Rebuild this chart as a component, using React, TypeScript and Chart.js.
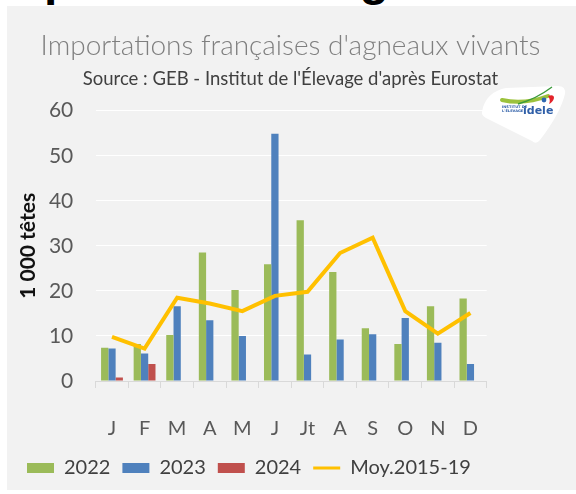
import React, { useEffect, useRef } from 'react';
import { Chart, registerables } from 'chart.js';

Chart.register(...registerables);

const months = ['J', 'F', 'M', 'A', 'M', 'J', 'Jt', 'A', 'S', 'O', 'N', 'D'];
const imports2022 = [7.4, 8.2, 10.2, 28.5, 20.2, 25.9, 35.7, 24.2, 11.7, 8.2, 16.6, 18.3];
const imports2023 = [7.2, 6.1, 16.6, 13.5, 10.0, 54.9, 5.9, 9.2, 10.4, 14.0, 8.5, 3.8];
const imports2024 = [0.8, 3.8, null, null, null, null, null, null, null, null, null, null];
const avg2015_19 = [9.8, 7.2, 18.5, 17.2, 15.5, 18.9, 19.8, 28.4, 31.8, 15.5, 10.5, 15.1];
const seriesNames = ['2022', '2023', '2024', 'Moy.2015-19'];

const FONT = 'Lato, "Open Sans", "DejaVu Sans", sans-serif';

export default function App() {
  const ref = useRef<HTMLCanvasElement>(null);

  useEffect(() => {
    document.body.style.margin = '0';
    const canvas = ref.current;
    if (!canvas) return;
    Chart.defaults.font.family = FONT;
    const chart = new Chart(canvas, {
      type: 'bar',
      data: {
        labels: months,
        datasets: [
          {
            label: seriesNames[0],
            data: imports2022,
            backgroundColor: '#9bbb59',
            borderWidth: 0,
            categoryPercentage: 0.67,
            barPercentage: 1,
            order: 1,
          },
          {
            label: seriesNames[1],
            data: imports2023,
            backgroundColor: '#4f81bd',
            borderWidth: 0,
            categoryPercentage: 0.67,
            barPercentage: 1,
            order: 1,
          },
          {
            label: seriesNames[2],
            data: imports2024,
            backgroundColor: '#c0504d',
            borderWidth: 0,
            categoryPercentage: 0.67,
            barPercentage: 1,
            order: 1,
          },
          {
            type: 'line',
            label: seriesNames[3],
            data: avg2015_19,
            borderColor: '#ffc000',
            backgroundColor: '#ffc000',
            borderWidth: 4,
            pointRadius: 0,
            tension: 0,
            order: 0,
          } as any,
        ],
      },
      options: {
        animation: false,
        responsive: false,
        layout: { padding: { left: 8, right: 10, top: 0, bottom: 2 } },
        plugins: {
          title: {
            display: true,
            text: 'Importations françaises d\'agneaux vivants',
            color: '#7f7f7f',
            font: { family: FONT, size: 28, weight: 300 },
            padding: { top: 23.2, bottom: 0 },
          },
          subtitle: {
            display: true,
            text: 'Source : GEB - Institut de l\'Élevage d\'après Eurostat',
            color: '#404040',
            font: { family: FONT, size: 18.5 },
            padding: { top: 5.1, bottom: 20.6 },
          },
          legend: {
            position: 'bottom',
            align: 'start',
            labels: {
              color: '#404040',
              font: { family: FONT, size: 20 },
              usePointStyle: true,
              pointStyleWidth: 27,
              boxHeight: 10,
              padding: 12,
              sort: (a: any, b: any) => a.datasetIndex - b.datasetIndex,
              generateLabels: (c: any) => {
                const items = (Chart.defaults.plugins.legend.labels as any).generateLabels(c);
                items.forEach((it: any) => {
                  if (it.datasetIndex === 3) {
                    it.pointStyle = 'line';
                    it.lineWidth = 3;
                    it.strokeStyle = '#ffc000';
                  } else {
                    it.pointStyle = 'rect';
                    it.lineWidth = 0;
                  }
                });
                return items;
              },
            },
          },
          tooltip: { enabled: false },
        },
        scales: {
          x: {
            grid: {
              display: true,
              drawOnChartArea: false,
              drawTicks: true,
              tickLength: 7,
              color: '#d9d9d9',
              offset: true,
            },
            border: { display: true, color: '#d9d9d9' },
            ticks: {
              callback: (_v: any, i: number) => ['', months[i]],
              color: '#595959',
              font: { family: FONT, size: 20 },
              padding: 5,
              maxRotation: 0,
              autoSkip: false,
            },
          },
          y: {
            min: 0,
            max: 60,
            ticks: {
              stepSize: 10,
              padding: 22.4,
              color: '#595959',
              font: { family: FONT, size: 21 },
            },
            grid: { color: '#ffffff', drawTicks: false, lineWidth: 1 },
            border: { display: false },
            title: {
              display: true,
              text: '1 000 têtes',
              color: '#111111',
              font: { family: FONT, size: 21, weight: 'bold' },
              padding: { top: 1, bottom: 0 },
            },
            afterFit: (s: any) => {
              s.width = 80.7;
            },
          },
          // empty right margin reserved so the plot area ends where the reference's does
          yRight: {
            type: 'linear',
            position: 'right',
            display: true,
            grid: { display: false },
            border: { display: false },
            ticks: { display: false },
            afterFit: (s: any) => {
              s.width = 79.3;
            },
          },
        },
      } as any,
    });
    return () => chart.destroy();
  }, []);

  return (
    <div style={{ position: 'relative', width: 576, height: 494, background: '#ffffff', overflow: 'hidden' }}>
      <div
        style={{
          position: 'absolute',
          left: -12,
          top: -44.6,
          fontFamily: '"Liberation Sans", Arial, sans-serif',
          fontWeight: 'bold',
          fontSize: 48,
          lineHeight: '48px',
          color: '#000',
          whiteSpace: 'nowrap',
        }}
      >
        Importations d'agneaux
      </div>
      <div style={{ position: 'absolute', left: 7, top: 6, width: 569, height: 484, background: '#f2f2f2' }}>
        <canvas ref={ref} width={569} height={484} style={{ display: 'block' }} />
      </div>
      <svg
        style={{ position: 'absolute', left: 478, top: 84 }}
        width={92}
        height={62}
        viewBox="0 0 92 62"
      >
        <path
          d="M4 28 C6 14 16 6 28 4 L80 2 Q88 2 87 10 Q82 30 62 56 Q58 61 54 57 L8 34 Q3 31 4 28 Z"
          fill="#ffffff"
        />
        <path d="M24 16 Q46 21 70 12" stroke="#9cc23c" strokeWidth={4} fill="none" strokeLinecap="round" />
        <path d="M40 20 Q58 15 74 3" stroke="#3a9a3a" strokeWidth={1.3} fill="none" />
        <path d="M70 12 Q76 10 76 14 Q75 18 71 20 Q73 16 70 12 Z" fill="#e3242b" />
        <circle cx={66} cy={16} r={2.4} fill="#2f67b1" />
        <text x={24} y={24} fontSize={3.6} fontWeight="bold" fill="#2f5fa8" fontFamily="DejaVu Sans">INSTITUT DE</text>
        <text x={24} y={28} fontSize={3.6} fontWeight="bold" fill="#2f5fa8" fontFamily="DejaVu Sans">L'ÉLEVAGE</text>
        <text x={45} y={30} fontSize={11} fontWeight="bold" fill="#2f5fa8" fontFamily="DejaVu Sans">idele</text>
      </svg>
    </div>
  );
}
